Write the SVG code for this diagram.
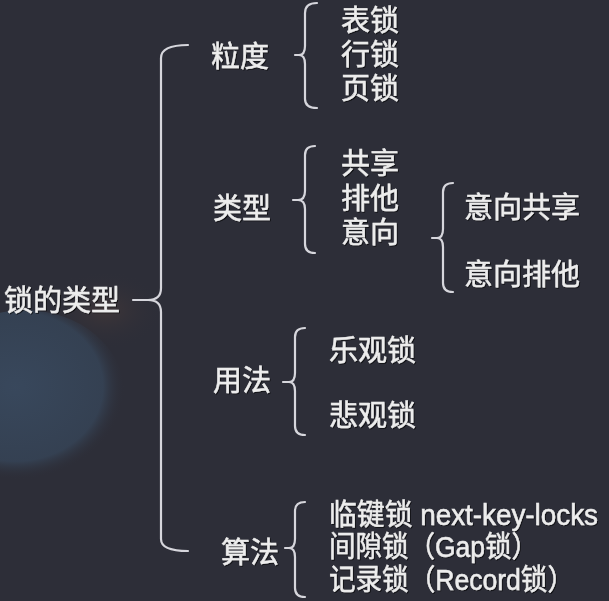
<svg xmlns="http://www.w3.org/2000/svg" width="609" height="601" viewBox="0 0 609 601">
<defs>
<radialGradient id="blue" cx="0.45" cy="0.45" r="0.55">
<stop offset="0" stop-color="#39495e" stop-opacity="0.95"/>
<stop offset="0.8" stop-color="#37475b" stop-opacity="0.75"/>
<stop offset="1" stop-color="#2d2e38" stop-opacity="0"/>
</radialGradient>
<radialGradient id="orange" cx="0.5" cy="0.5" r="0.5">
<stop offset="0" stop-color="#463938" stop-opacity="0.7"/>
<stop offset="1" stop-color="#2d2e38" stop-opacity="0"/>
</radialGradient>
<filter id="sh" x="-5%" y="-20%" width="110%" height="140%">
<feDropShadow dx="1" dy="1" stdDeviation="0.6" flood-color="#000" flood-opacity="0.6"/>
</filter>
</defs>
<style>
text{font-family:"Liberation Sans","Noto Sans CJK SC",sans-serif;font-size:29px;fill:#ededed;stroke:#ededed;stroke-width:0.5;filter:url(#sh)}
.br{fill:none;stroke:#d6d6dc;stroke-width:2.2;stroke-linecap:round;stroke-linejoin:round}
</style>
<rect width="609" height="601" fill="#2d2e38"/>
<ellipse cx="105" cy="310" rx="60" ry="40" fill="url(#orange)"/>
<ellipse cx="25" cy="395" rx="100" ry="85" fill="url(#blue)"/>
<g id="connectors">
<path class="br" d="M188,45 Q161,45 161,58 L161,288 Q161,300 148,300 L133,300 M148,300 Q161,300 161,312 L161,539 Q161,551 188,551"/>
<path class="br" d="M317,3 Q305,3 305,13 L305,46 Q305,55 299,55 L295,55 M299,55 Q305,55 305,64 L305,99 Q305,108 317,108"/>
<path class="br" d="M315,146 Q305,146 305,155 L305,191 Q305,200 298,200 L293,200 M298,200 Q305,200 305,209 L305,244 Q305,253 315,253"/>
<path class="br" d="M453,183 Q443,183 443,192 L443,229 Q443,238 437,238 L432,238 M437,238 Q443,238 443,247 L443,283 Q443,292 453,292"/>
<path class="br" d="M305,328 Q295,328 295,337 L295,373 Q295,382 289,382 L283,382 M289,382 Q295,382 295,391 L295,426 Q295,435 305,435"/>
<path class="br" d="M305,502 Q295,502 295,511 L295,539 Q295,548 289,548 L285,548 M289,548 Q295,548 295,557 L295,588 Q295,597 305,597"/>
</g>
<g id="root"><text x="4" y="311">锁的类型</text></g>
<g id="lidu"><text x="211" y="67">粒度</text></g>
<g id="leixing"><text x="213" y="219">类型</text></g>
<g id="yongfa"><text x="213" y="391">用法</text></g>
<g id="suanfa"><text x="221" y="563">算法</text></g>
<g id="biaosuo"><text x="341" y="31">表锁</text></g>
<g id="hangsuo"><text x="341" y="65">行锁</text></g>
<g id="yesuo"><text x="341" y="99">页锁</text></g>
<g id="gongxiang"><text x="341" y="174">共享</text></g>
<g id="paita"><text x="341" y="209">排他</text></g>
<g id="yixiang"><text x="341" y="243">意向</text></g>
<g id="yxgx"><text x="464" y="218">意向共享</text></g>
<g id="yxpt"><text x="464" y="285">意向排他</text></g>
<g id="leguan"><text x="329" y="361">乐观锁</text></g>
<g id="beiguan"><text x="329" y="426">悲观锁</text></g>
<g id="linjian"><text x="329" y="525" textLength="269" lengthAdjust="spacingAndGlyphs">临键锁 next-key-locks</text></g>
<g id="jianxi"><text x="329" y="557" textLength="209" lengthAdjust="spacingAndGlyphs">间隙锁（Gap锁）</text></g>
<g id="jilu"><text x="329" y="590" textLength="245" lengthAdjust="spacingAndGlyphs">记录锁（Record锁）</text></g>
</svg>
